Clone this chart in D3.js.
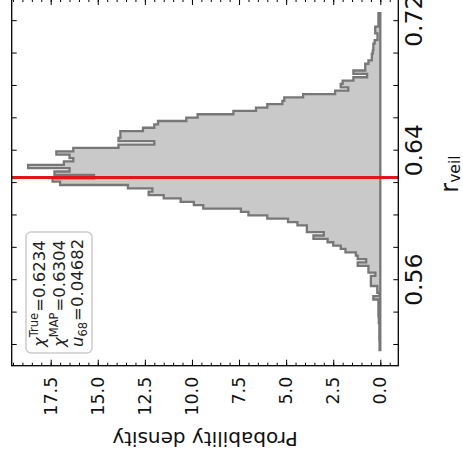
<!DOCTYPE html>
<html><head><meta charset="utf-8">
<script src="https://cdn.jsdelivr.net/npm/d3@7"></script>
<style>
html,body{margin:0;padding:0;background:#fff;}
svg{display:block;}
text{font-family:"DejaVu Sans",sans-serif;}
</style></head><body>
<svg id="chart" width="463" height="460"></svg>
<script>
// ---- data (original, un-rotated chart: x = r_veil, y = probability density) ----
const binStart = 0.5169;
const binWidth = 0.00208;
const density = [
  0.04,0.04,0.04,0.05,0.05,0.05,0.05,0.05,0.08,0.08,
  0.1,0.1,0.1,0.1,0.1,0.37,0.05,0.16,0.16,0.5,
  0.5,0.5,0.26,0.63,0.63,1.2,0.75,1.2,1.3,1.85,
  2.1,2.5,2.8,3.55,3.0,3.9,3.9,4.4,4.9,6.0,
  7.0,7.4,9.4,9.9,10.6,11.5,12.3,12.1,13.4,17.0,
  17.4,15.2,17.3,16.5,18.7,16.8,16.3,16.5,17.2,16.3,
  13.9,12.0,13.9,13.8,13.8,12.6,12.0,11.8,10.3,9.7,
  7.8,6.6,6.0,5.2,5.1,4.1,2.4,1.7,2.1,2.0,
  1.43,0.7,1.43,0.8,0.8,0.63,0.45,0.45,0.4,0.37,
  0.37,0.3,0.15,0.15,0.27,0.27,0.1,0.1,0.1,0.1
];
const trueValue = 0.6234;
const xTickValues = [0.56, 0.64, 0.72];
const xTickLabels = ["0.56", "0.64", "0.72"];
const xSmallTicks = [0.52,0.54,0.56,0.58,0.60,0.62,0.64,0.66,0.68,0.70,0.72];
const yTickValues = [0, 2.5, 5, 7.5, 10, 12.5, 15, 17.5];
const yTickLabels = ["0.0","2.5","5.0","7.5","10.0","12.5","15.0","17.5"];
const legendSymbols = ["χ", "χ", "u"];
const legendScripts = ["True", "MAP", "68"];
const legendScriptKinds = ["sup", "sup", "sub"];
const legendValues = ["=0.6234", "=0.6304", "=0.04682"];
const xLabelMain = "r", xLabelSub = "veil";
const yLabelText = "Probability density";

// ---- layout ----
const W = 366.7, H = 386.6;
const svg = d3.select("#chart");
const g = svg.append("g").attr("transform", "translate(11.7,365.7) rotate(-90)");

const x = d3.scaleLinear().domain([0.5072, 0.7337]).range([0, W]);
const y = d3.scaleLinear().domain([-0.955, 19.57]).range([H, 0]);

// histogram (stepfilled)
const pts = density.map((d, i) => [binStart + i * binWidth, d]);
pts.push([binStart + density.length * binWidth, density[density.length - 1]]);
const area = d3.area()
  .x(p => x(p[0])).y0(y(0)).y1(p => y(p[1]))
  .curve(d3.curveStepAfter);
g.append("path").attr("d", area(pts))
  .attr("fill", "#c9c9c9").attr("stroke", "#777777")
  .attr("stroke-width", 2.3).attr("stroke-linejoin", "miter");

// true value line
g.append("line")
  .attr("x1", x(trueValue)).attr("x2", x(trueValue))
  .attr("y1", 0).attr("y2", H)
  .attr("stroke", "#e3151b").attr("stroke-width", 3);

// legend box
g.append("rect").attr("x", 12.7).attr("y", 14.3).attr("width", 121).attr("height", 66)
  .attr("rx", 5).attr("fill", "#fff").attr("fill-opacity", 0.9)
  .attr("stroke", "#cccccc").attr("stroke-width", 1.5);
const baselines = [33.3, 53.3, 71.8];
legendSymbols.forEach((s, i) => {
  const t = g.append("text").attr("x", 18.7).attr("y", baselines[i])
    .attr("font-size", 16.5).attr("fill", "#222");
  t.append("tspan").attr("font-style", "italic").text(s);
  const shift = legendScriptKinds[i] === "sup" ? -6.5 : 3.5;
  t.append("tspan").attr("font-size", 11.5).attr("dy", shift).text(legendScripts[i]);
  t.append("tspan").attr("dy", -shift).attr("dx", 1).text(legendValues[i]);
});

// axes
function styleAxis(sel, fs) {
  sel.select(".domain").remove();
  sel.selectAll("line").attr("stroke", "#000").attr("stroke-width", 1);
  sel.selectAll("text").attr("font-family", "DejaVu Sans, sans-serif")
    .attr("font-size", fs).attr("fill", "#111");
  sel.attr("font-family", null).attr("font-size", null);
}
// original bottom (r_veil) axis
g.append("g").attr("transform", `translate(0,${H})`)
  .call(d3.axisBottom(x).tickValues(xSmallTicks).tickSize(-5).tickSizeOuter(0).tickPadding(6.7)
    .tickFormat(v => { const k = xTickValues.findIndex(t => Math.abs(t - v) < 1e-9); return k >= 0 ? xTickLabels[k] : ""; }))
  .call(s => styleAxis(s, 23.5));
// original top axis (ticks only)
g.append("g")
  .call(d3.axisTop(x).tickValues(xSmallTicks).tickSize(-5).tickSizeOuter(0).tickFormat(""))
  .call(s => styleAxis(s, 10));
// original left (density) axis
g.append("g")
  .call(d3.axisLeft(y).tickValues(yTickValues).tickSize(-6).tickSizeOuter(0).tickPadding(11)
    .tickFormat((v, i) => yTickLabels[i]))
  .call(s => styleAxis(s, 17.5));
g.append("g")
  .call(d3.axisLeft(y).tickValues(d3.range(-0.5, 19.6, 0.5)).tickSize(-3).tickSizeOuter(0).tickFormat(""))
  .call(s => styleAxis(s, 10));
// original right axis (ticks only)
g.append("g").attr("transform", `translate(${W},0)`)
  .call(d3.axisRight(y).tickValues(yTickValues).tickSize(-6).tickSizeOuter(0).tickFormat(""))
  .call(s => styleAxis(s, 10));
g.append("g").attr("transform", `translate(${W},0)`)
  .call(d3.axisRight(y).tickValues(d3.range(-0.5, 19.6, 0.5)).tickSize(-3).tickSizeOuter(0).tickFormat(""))
  .call(s => styleAxis(s, 10));

// spines
g.append("rect").attr("x", 0).attr("y", 0).attr("width", W).attr("height", H)
  .attr("fill", "none").attr("stroke", "#000").attr("stroke-width", 1.3);

// axis labels
g.append("text").attr("transform", `translate(-66,${H / 2}) rotate(-90)`)
  .attr("text-anchor", "middle").attr("font-size", 20).attr("fill", "#111")
  .text(yLabelText);
const xl = g.append("text").attr("x", 173).attr("y", 446).attr("font-size", 24).attr("fill", "#111");
xl.append("tspan").text(xLabelMain);
xl.append("tspan").attr("font-size", 15.5).attr("dy", 2.5).text(xLabelSub);
</script>
</body></html>
